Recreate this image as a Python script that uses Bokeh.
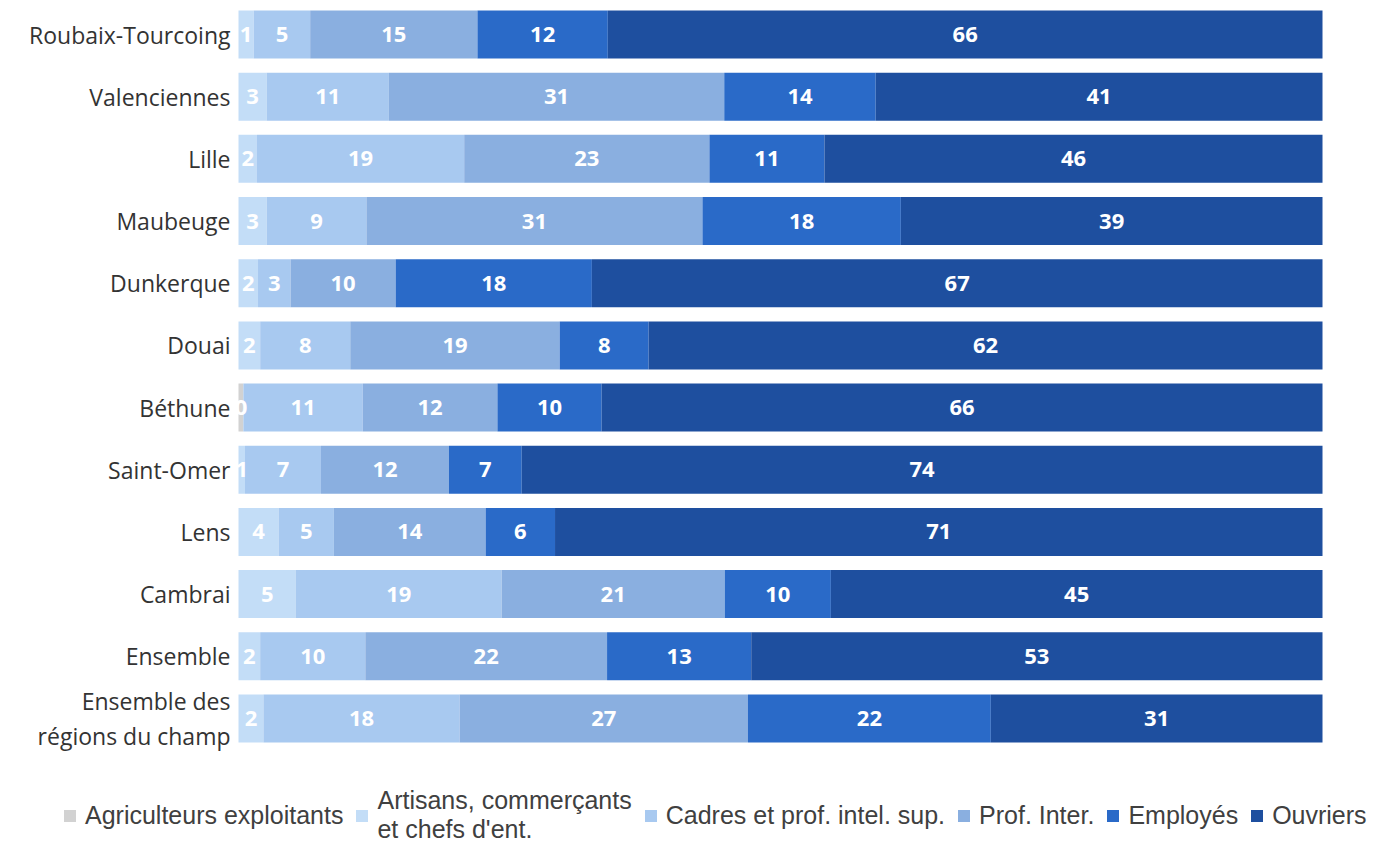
from bokeh.plotting import figure
from bokeh.models import ColumnDataSource, Range1d, Legend, LegendItem
from bokeh.embed import file_html
from bokeh.resources import INLINE
from bokeh.core.properties import value

categories = ["Roubaix-Tourcoing", "Valenciennes", "Lille", "Maubeuge", "Dunkerque",
              "Douai", "Béthune", "Saint-Omer", "Lens", "Cambrai", "Ensemble",
              "Ensemble des\nrégions du champ"]

agriculteurs = [0, 0, 0, 0, 0, 0, 0.45, 0, 0, 0, 0, 0]
artisans = [1.4, 2.6, 1.7, 2.6, 1.8, 2.0, 0, 0.6, 3.7, 5.3, 2.0, 2.3]
cadres = [5.2, 11.3, 19.1, 9.2, 3.0, 8.3, 11.0, 7.0, 5.1, 19.0, 9.7, 18.1]
prof_inter = [15.4, 31.0, 22.6, 31.0, 9.7, 19.3, 12.4, 11.8, 14.0, 20.6, 22.3, 26.6]
employes = [12.0, 14.0, 10.6, 18.3, 18.1, 8.2, 9.6, 6.7, 6.4, 9.8, 13.3, 22.4]
ouvriers = [65.8, 41.3, 45.9, 38.9, 67.4, 62.1, 66.4, 73.8, 70.8, 45.4, 52.7, 30.6]

series_names = ["Agriculteurs exploitants", "Artisans, commerçants\net chefs d'ent.",
                "Cadres et prof. intel. sup.", "Prof. Inter.", "Employés", "Ouvriers"]
colors = ["#d2d2d2", "#c3ddf7", "#a8c9f0", "#8aafe0", "#2a6ac8", "#1e4f9f"]

series = [agriculteurs, artisans, cadres, prof_inter, employes, ouvriers]
keys = ["s%d" % i for i in range(len(series))]
totals = [sum(col) for col in zip(*series)]
rows = list(range(len(categories)))  # row 0 at the top

data = {"cat": categories, "row": rows, "base": [0] * len(categories)}
for k, s in zip(keys, series):
    data[k] = [v / t * 100 for v, t in zip(s, totals)]
source = ColumnDataSource(data)

# value label positions (centre of each stacked segment)
lx, ly, lt = [], [], []
for i in rows:
    acc = 0.0
    for k, s in zip(keys, series):
        share = data[k][i]
        if s[i] > 0:
            lx.append(acc + share / 2)
            ly.append(i)
            lt.append(f"{s[i]:.0f}")
        acc += share
lsrc = ColumnDataSource(dict(x=lx, y=ly, text=lt))

W, H = 1370, 849
left_px, right_px = 238, 1322       # bar area in pixels
top_c, pitch = 34, 62.18            # first row centre and row pitch in pixels
ux = (right_px - left_px) / 100.0

p = figure(x_range=Range1d(-left_px / ux, 100 + (W - right_px) / ux),
           y_range=Range1d((H - top_c) / pitch, -top_c / pitch),
           width=W, height=H, output_backend="svg", toolbar_location=None,
           min_border_left=0, min_border_right=0, min_border_top=0,
           min_border_bottom=0)

renderers = p.hbar_stack(keys, y="row", height=48 / pitch, fill_color=colors,
                         line_color=None, source=source)

p.text(x="x", y="y", text="text", source=lsrc, text_align="center",
       text_baseline="middle", text_color="white",
       text_font=value("Open Sans"), text_font_style="bold",
       text_font_size="22px")

# category labels (left of the bars)
p.text(x="base", y="row", text="cat", source=source, x_offset=-8,
       text_align="right", text_baseline="middle", text_color="#333333",
       text_font=value("Open Sans"), text_font_size="23px",
       text_line_height=1.1)

p.axis.visible = False
p.grid.visible = False
p.outline_line_color = None

legend = Legend(items=[LegendItem(label=n, renderers=[r]) for n, r in zip(series_names, renderers)],
                orientation="horizontal", location=(62, 5),
                glyph_width=15, glyph_height=15, label_standoff=8, spacing=11,
                padding=0, margin=0, border_line_color=None,
                background_fill_alpha=0,
                label_text_font="Liberation Sans", label_text_font_size="25px",
                label_text_color="#404040")
p.add_layout(legend, "center")

open("out.html", "w").write(file_html(p, INLINE))
